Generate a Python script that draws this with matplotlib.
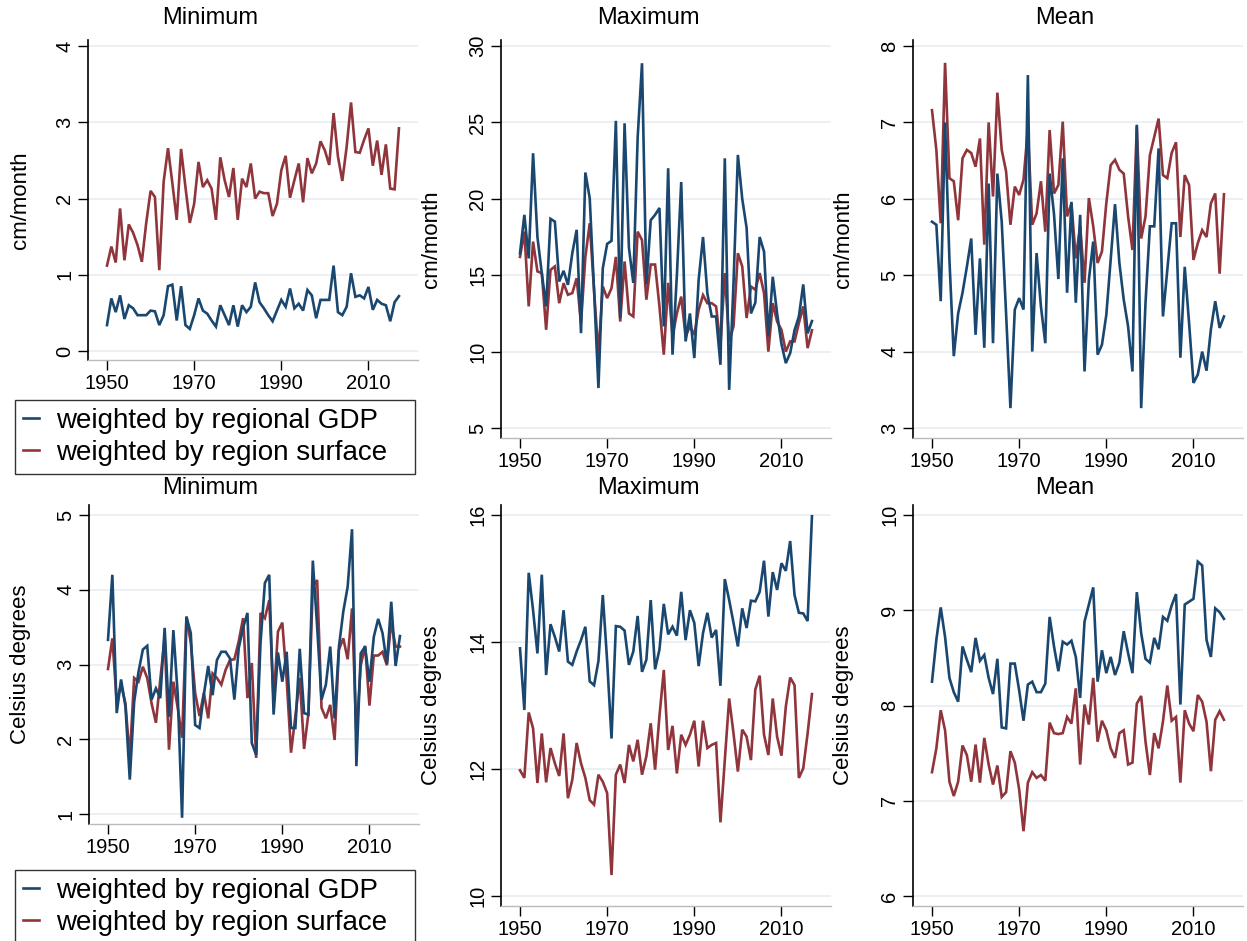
import matplotlib
matplotlib.use("Agg")
import matplotlib.pyplot as plt
import numpy as np
from matplotlib.lines import Line2D

plt.rcParams['font.family'] = ['Liberation Sans', 'DejaVu Sans']

years = list(range(1950, 2018))

# Precipitation (cm/month)
prec_min_gdp = [0.34, 0.69, 0.51, 0.73, 0.42, 0.60, 0.56, 0.47, 0.47, 0.47,
                0.53, 0.52, 0.34, 0.47, 0.85, 0.87, 0.40, 0.85, 0.34, 0.29,
                0.47, 0.69, 0.53, 0.49, 0.40, 0.32, 0.60, 0.47, 0.34, 0.60,
                0.32, 0.60, 0.51, 0.58, 0.90, 0.64, 0.56, 0.47, 0.39, 0.53,
                0.67, 0.58, 0.82, 0.56, 0.62, 0.53, 0.80, 0.73, 0.43, 0.67,
                0.67, 0.67, 1.12, 0.51, 0.47, 0.58, 1.02, 0.71, 0.73, 0.69,
                0.84, 0.54, 0.67, 0.62, 0.60, 0.39, 0.64, 0.72]
prec_min_surf = [1.12, 1.37, 1.16, 1.87, 1.19, 1.66, 1.55, 1.39, 1.17, 1.68,
                 2.10, 2.02, 1.06, 2.22, 2.66, 2.20, 1.72, 2.65, 2.15, 1.68,
                 1.93, 2.48, 2.15, 2.24, 2.13, 1.72, 2.54, 2.24, 2.02, 2.40,
                 1.72, 2.26, 2.15, 2.46, 2.00, 2.09, 2.07, 2.07, 1.77, 1.93,
                 2.37, 2.56, 2.01, 2.24, 2.46, 1.95, 2.53, 2.33, 2.46, 2.75,
                 2.63, 2.44, 3.12, 2.55, 2.23, 2.68, 3.26, 2.61, 2.60, 2.77,
                 2.92, 2.43, 2.76, 2.31, 2.71, 2.13, 2.12, 2.92]
prec_max_gdp = [16.44, 18.95, 16.1, 22.98, 17.5, 15.14, 12.96, 18.69, 18.51, 14.59,
                15.29, 14.37, 16.44, 17.97, 11.21, 21.72, 20.04, 14.0, 7.62, 15.46,
                17.05, 17.25, 25.1, 12.2, 24.94, 16.8, 14.5, 24.0, 28.87, 14.4,
                18.6, 18.95, 19.4, 11.65, 22.0, 9.8, 15.0, 21.1, 10.67, 12.5,
                9.58, 14.7, 17.5, 13.8, 12.3, 12.3, 9.14, 22.65, 7.5, 14.5,
                22.87, 20.0, 18.1, 12.5, 13.2, 17.5, 16.55, 11.0, 14.9, 12.5,
                10.5, 9.25, 9.9, 11.4, 12.3, 14.4, 11.2, 12.0]
prec_max_surf = [16.2, 17.85, 12.96, 17.2, 15.25, 15.14, 11.43, 15.35, 15.57, 13.17,
                 14.48, 13.72, 13.83, 14.8, 11.87, 16.2, 18.4, 14.0, 9.8, 14.26,
                 13.5, 14.15, 16.2, 11.97, 15.9, 12.5, 12.3, 17.85, 17.3, 13.4,
                 15.7, 15.7, 12.96, 9.8, 14.5, 11.0, 12.5, 13.6, 11.0, 11.65,
                 11.1, 12.74, 13.7, 13.17, 13.17, 12.96, 10.45, 15.14, 10.67, 11.65,
                 16.44, 15.57, 12.2, 14.26, 14.05, 15.14, 13.83, 10.0, 13.17, 11.97,
                 11.43, 10.0, 10.67, 10.67, 11.87, 12.96, 10.23, 11.4]
prec_mean_gdp = [5.70, 5.66, 4.66, 7.0, 5.2, 3.94, 4.5, 4.77, 5.11, 5.48,
                 4.22, 5.22, 4.05, 6.2, 4.11, 6.33, 5.7, 4.5, 3.26, 4.55,
                 4.7, 4.55, 7.62, 4.0, 5.29, 4.59, 4.11, 6.33, 5.8, 4.95,
                 6.53, 4.77, 5.96, 4.64, 5.79, 3.74, 4.94, 5.44, 3.96, 4.09,
                 4.48, 5.2, 5.93, 5.16, 4.68, 4.33, 3.74, 6.97, 3.26, 4.64,
                 5.64, 5.64, 6.66, 4.46, 5.07, 5.68, 5.68, 3.92, 5.11, 4.37,
                 3.59, 3.70, 4.0, 3.75, 4.29, 4.66, 4.31, 4.46]
prec_mean_surf = [7.16, 6.64, 5.68, 7.78, 6.27, 6.23, 5.72, 6.53, 6.64, 6.6,
                  6.42, 6.79, 5.4, 7.0, 6.03, 7.39, 6.64, 6.36, 5.66, 6.16,
                  6.05, 6.25, 6.92, 5.66, 5.81, 6.23, 5.57, 6.9, 6.07, 6.18,
                  7.01, 5.77, 5.94, 5.22, 5.64, 4.9, 6.01, 5.64, 5.16, 5.31,
                  5.94, 6.44, 6.51, 6.38, 6.33, 5.77, 5.33, 6.95, 5.48, 5.77,
                  6.57, 6.81, 7.05, 6.31, 6.27, 6.6, 6.74, 5.5, 6.31, 6.18,
                  5.2, 5.42, 5.59, 5.5, 5.94, 6.07, 5.02, 6.06]

# Temperature (Celsius degrees)
temp_min_gdp = [3.33, 4.2, 2.35, 2.8, 2.44, 1.46, 2.5, 2.9, 3.2, 3.25,
                2.53, 2.68, 2.55, 3.49, 2.3, 3.46, 2.6, 0.95, 3.64, 3.42,
                2.19, 2.15, 2.6, 2.98, 2.59, 3.06, 3.17, 3.17, 3.08, 2.53,
                3.22, 3.49, 3.69, 1.95, 1.79, 3.29, 4.09, 4.2, 2.33, 3.16,
                2.77, 3.17, 2.15, 2.15, 3.21, 2.35, 2.33, 4.39, 3.5, 2.53,
                2.73, 3.24, 2.28, 3.24, 3.71, 4.04, 4.81, 1.64, 3.15, 3.24,
                2.77, 3.37, 3.61, 3.42, 3.01, 3.84, 2.98, 3.38]
temp_min_surf = [2.94, 3.35, 2.5, 2.73, 2.48, 1.75, 2.82, 2.77, 2.97, 2.82,
                 2.48, 2.22, 2.8, 3.35, 1.86, 2.77, 2.42, 2.02, 3.64, 3.29,
                 2.62, 2.31, 2.62, 2.28, 2.88, 2.82, 2.73, 2.93, 3.06, 3.07,
                 3.31, 3.62, 2.55, 3.02, 1.75, 3.69, 3.62, 3.86, 2.51, 3.44,
                 3.56, 2.8, 1.82, 2.31, 2.82, 1.87, 2.35, 4.04, 4.13, 2.42,
                 2.28, 2.46, 1.99, 3.2, 3.35, 3.07, 3.75, 2.06, 2.99, 3.25,
                 2.45, 3.12, 3.12, 3.17, 2.99, 3.56, 3.24, 3.24]
temp_max_gdp = [13.9, 12.93, 15.09, 14.5, 13.82, 15.06, 13.48, 14.28, 14.08, 13.85,
                14.5, 13.69, 13.64, 13.85, 14.03, 14.24, 13.38, 13.32, 13.7, 14.74,
                13.7, 12.48, 14.25, 14.24, 14.18, 13.64, 13.85, 14.41, 13.53, 13.72,
                14.66, 13.57, 13.88, 14.6, 14.12, 14.24, 14.1, 14.79, 14.03, 14.5,
                14.3, 13.62, 14.14, 14.46, 14.07, 14.19, 13.31, 14.99, 14.66, 14.3,
                13.93, 14.53, 14.22, 14.65, 14.64, 14.79, 15.28, 14.4, 15.1, 14.82,
                15.24, 15.12, 15.59, 14.74, 14.46, 14.45, 14.33, 15.98]
temp_max_surf = [11.98, 11.86, 12.89, 12.64, 11.78, 12.56, 11.79, 12.33, 12.09, 11.89,
                 12.56, 11.54, 11.83, 12.41, 12.09, 11.86, 11.51, 11.44, 11.91, 11.8,
                 11.62, 10.33, 11.91, 12.07, 11.78, 12.38, 12.12, 12.46, 11.91, 12.2,
                 12.72, 11.99, 12.83, 13.56, 12.3, 12.68, 11.93, 12.54, 12.38, 12.54,
                 12.76, 12.04, 12.76, 12.33, 12.38, 12.41, 11.16, 12.14, 13.11, 12.56,
                 11.96, 12.62, 12.51, 12.14, 13.25, 13.47, 12.54, 12.22, 13.11, 12.51,
                 12.21, 12.98, 13.44, 13.32, 11.86, 12.01, 12.56, 13.18]
temp_mean_gdp = [8.25, 8.69, 9.03, 8.72, 8.29, 8.14, 8.04, 8.62, 8.48, 8.35,
                 8.71, 8.47, 8.53, 8.29, 8.12, 8.49, 7.77, 7.76, 8.44, 8.44,
                 8.16, 7.84, 8.22, 8.25, 8.14, 8.14, 8.23, 8.93, 8.62, 8.36,
                 8.67, 8.64, 8.68, 8.51, 8.08, 8.88, 9.06, 9.24, 8.25, 8.58,
                 8.34, 8.51, 8.32, 8.45, 8.78, 8.55, 8.34, 9.19, 8.76, 8.49,
                 8.45, 8.71, 8.59, 8.93, 8.89, 9.05, 9.17, 8.01, 9.06, 9.09,
                 9.12, 9.51, 9.47, 8.69, 8.51, 9.02, 8.98, 8.91]
temp_mean_surf = [7.30, 7.55, 7.95, 7.74, 7.2, 7.05, 7.2, 7.58, 7.48, 7.2,
                  7.59, 7.19, 7.66, 7.38, 7.17, 7.37, 7.04, 7.09, 7.52, 7.4,
                  7.12, 6.68, 7.19, 7.3, 7.24, 7.27, 7.21, 7.82, 7.71, 7.7,
                  7.71, 7.88, 7.81, 8.18, 7.38, 8.01, 7.8, 8.29, 7.62, 7.84,
                  7.74, 7.55, 7.45, 7.71, 7.74, 7.38, 7.4, 8.02, 8.1, 7.62,
                  7.27, 7.71, 7.55, 7.83, 8.21, 7.84, 7.88, 7.19, 7.95, 7.81,
                  7.73, 8.11, 8.04, 7.83, 7.31, 7.85, 7.94, 7.85]

titles = ["Minimum", "Maximum", "Mean"]
ylabels = ["cm/month", "Celsius degrees"]
labels = ["weighted by regional GDP", "weighted by region surface"]
xticks = [1950, 1970, 1990, 2010]
yticks = [[0, 1, 2, 3, 4], [5, 10, 15, 20, 25, 30], [3, 4, 5, 6, 7, 8],
          [1, 2, 3, 4, 5], [10, 12, 14, 16], [6, 7, 8, 9, 10]]

BLUE = '#1a476f'
RED = '#90353b'
GRID = '#e6eef1'

W, H = 1247, 941
fig = plt.figure(figsize=(W / 100, H / 100), dpi=100)
fig.patch.set_facecolor('white')


def px_axes(l, t, r, b):
    return fig.add_axes([l / W, 1 - b / H, (r - l) / W, (b - t) / H])


# (left, top, right, bottom) in pixels, ylim
layout = [
    ((88, 40, 418, 360), (-0.118, 4.079)),
    ((501, 40, 831, 438), (4.35, 30.39)),
    ((913, 40, 1243, 438), (2.869, 8.079)),
    ((89, 505, 419, 824), (0.866, 5.134)),
    ((501, 505, 831, 906), (9.843, 16.157)),
    ((913, 505, 1243, 906), (5.895, 10.105)),
]
series = [
    (prec_min_gdp, prec_min_surf), (prec_max_gdp, prec_max_surf),
    (prec_mean_gdp, prec_mean_surf), (temp_min_gdp, temp_min_surf),
    (temp_max_gdp, temp_max_surf), (temp_mean_gdp, temp_mean_surf),
]
title_x = [210, 648, 1065]
title_y = [18, 488]
ylabel_x = [31, 442, 854]

axes = []
for k, ((box, ylim), (g, s)) in enumerate(zip(layout, series)):
    ax = px_axes(*box)
    axes.append(ax)
    ax.plot(years, g, color=BLUE, lw=1.9, solid_joinstyle='miter', zorder=3)
    ax.plot(years, s, color=RED, lw=1.9, solid_joinstyle='miter', zorder=2)
    ax.set_xlim(1945.64, 2021.37)
    ax.set_ylim(*ylim)
    ax.set_xticks(xticks)
    ax.set_yticks(yticks[k])
    ax.grid(axis='y', color=GRID, lw=1.2, zorder=0)
    ax.set_axisbelow(True)
    for sp in ['top', 'right']:
        ax.spines[sp].set_visible(False)
    ax.spines['left'].set_color('black')
    ax.spines['left'].set_linewidth(1.2)
    ax.spines['bottom'].set_color('#bbbbbb')
    ax.spines['bottom'].set_linewidth(1.0)
    ax.tick_params(axis='y', length=7, width=1.0, labelsize=14.5, pad=3)
    ax.tick_params(axis='x', length=7, width=1.0, labelsize=14.5, pad=3,
                   color='black')
    for lab in ax.get_yticklabels():
        lab.set_rotation(90)
        lab.set_va('center')
    row, col = divmod(k, 3)
    fig.text(title_x[col] / W, 1 - title_y[row] / H, titles[col],
             ha='center', va='center', fontsize=17)
    ax.set_ylabel(ylabels[row], fontsize=16)
    ax.yaxis.set_label_coords((ylabel_x[col] - box[0]) / (box[2] - box[0]), 0.5)

handles = [Line2D([], [], color=BLUE, lw=1.9), Line2D([], [], color=RED, lw=1.9)]
for top in (400, 870):
    leg = fig.legend(handles, labels, loc='upper left',
                     bbox_to_anchor=(15 / W, 1 - top / H - 0.01, 400 / W, 0.01),
                     bbox_transform=fig.transFigure, mode='expand',
                     frameon=True, fancybox=False, edgecolor='black',
                     fontsize=20, handlelength=0.6, handletextpad=0.6,
                     labelspacing=0.22, borderpad=0.28, borderaxespad=0)
    leg.get_frame().set_linewidth(1.0)

fig.savefig('out.png', dpi=100, facecolor='white')
